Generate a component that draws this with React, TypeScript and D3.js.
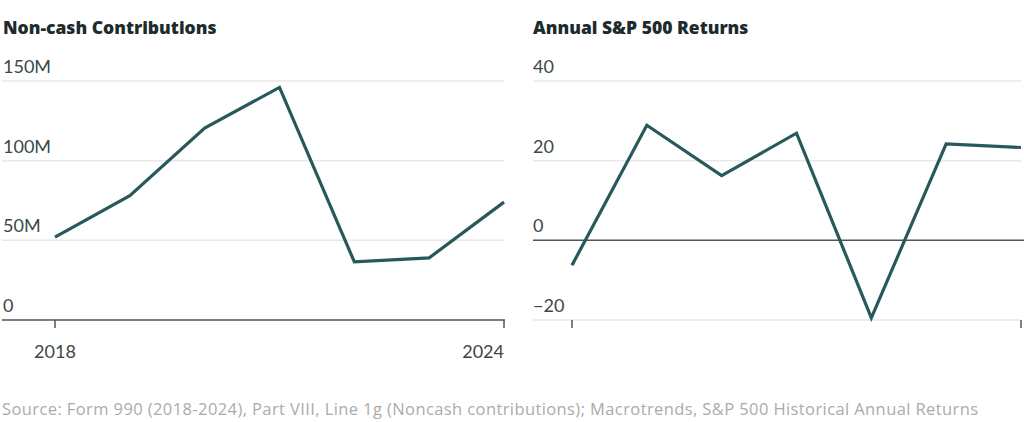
import * as d3 from 'd3';

const years = [2018, 2019, 2020, 2021, 2022, 2023, 2024];
// Non-cash contributions, millions of dollars
const contributions = [52, 78, 120.5, 146, 36.5, 39, 74];
// Annual S&P 500 returns, percent
const spReturns = [-6.24, 28.88, 16.26, 26.89, -19.44, 24.23, 23.31];

const contribTicks = [0, 50, 100, 150];
const returnTicks = [-20, 0, 20, 40];

const W = 1024;
const H = 422;
const lineColor = '#27595b';
const titleColor = '#1c2b2c';
const labelColor = '#3a4848';
const gridColor = '#e8e8e8';
const axisColor = '#555';
const font = 'Lato, "Open Sans", sans-serif';
const titleFont = '"Open Sans", Lato, sans-serif';

interface PanelProps {
  title: string;
  values: number[];
  ticks: number[];
  domain: [number, number];
  left: number;
  xStart: number;
  right: number;
  baseline: number;
  fmt: (v: number) => string;
  showYears: boolean;
  gridLeft: number;
}

function Panel({ title, values, ticks, domain, left, xStart, right, baseline, fmt, showYears, gridLeft }: PanelProps) {
  const x = d3.scaleLinear().domain([years[0], years[years.length - 1]]).range([xStart, right]);
  const y = d3.scaleLinear().domain(domain).range([320, 81]);
  const line = d3.line<number>()
    .x((_, i) => x(years[i]))
    .y(d => y(d));

  const ends = [years[0], years[years.length - 1]];

  return (
    <g>
      <text x={left} y={34} fill={titleColor} fontSize={17.5} fontWeight={800} fontFamily={titleFont}>
        {title}
      </text>
      {ticks.map(t => (
        <g key={t}>
          {t !== baseline && (
            <line x1={gridLeft} x2={right} y1={y(t)} y2={y(t)} stroke={gridColor} strokeWidth={1.5} />
          )}
          <text x={left} y={y(t) - 8} fill={labelColor} fontSize={18} fontFamily={font}>
            {fmt(t)}
          </text>
        </g>
      ))}
      {ends.map(yr => (
        <line key={yr} x1={x(yr)} x2={x(yr)} y1={320} y2={328} stroke={axisColor} strokeWidth={1.5} />
      ))}
      {showYears && ends.map((yr, i) => (
        <text key={'l' + yr} x={x(yr)} y={358} fill={labelColor} fontSize={18} fontFamily={font}
          textAnchor={i === 0 ? 'middle' : 'end'}>
          {yr}
        </text>
      ))}
      <line x1={gridLeft} x2={W} y1={y(baseline)} y2={y(baseline)} stroke={axisColor} strokeWidth={1.5} />
      <path d={line(values) ?? ''} fill="none" stroke={lineColor} strokeWidth={3.2} strokeLinejoin="miter" />
    </g>
  );
}

export default function App() {
  return (
    <svg width={W} height={H} style={{ position: 'absolute', left: 0, top: 0, background: '#fff' }}>
      <defs>
        <clipPath id="leftClip"><rect x={0} y={0} width={505} height={H} /></clipPath>
      </defs>
      <g clipPath="url(#leftClip)">
        <Panel title="Non-cash Contributions" values={contributions} ticks={contribTicks} domain={[0, 150]}
          left={3} xStart={55} right={504} baseline={0} fmt={v => (v === 0 ? '0' : `${v}M`)} showYears gridLeft={2} />
      </g>
      <Panel title="Annual S&P 500 Returns" values={spReturns} ticks={returnTicks} domain={[-20, 40]}
        left={533} xStart={572} right={1021} baseline={0} fmt={v => (v < 0 ? `\u2212${-v}` : `${v}`)} showYears={false} gridLeft={533} />
      <text x={2} y={415} fill="#ababab" fontSize={16.5} fontFamily={titleFont} fontWeight={400} letterSpacing={0.4}>
        Source: Form 990 (2018-2024), Part VIII, Line 1g (Noncash contributions); Macrotrends, S&P 500 Historical Annual Returns
      </text>
    </svg>
  );
}
